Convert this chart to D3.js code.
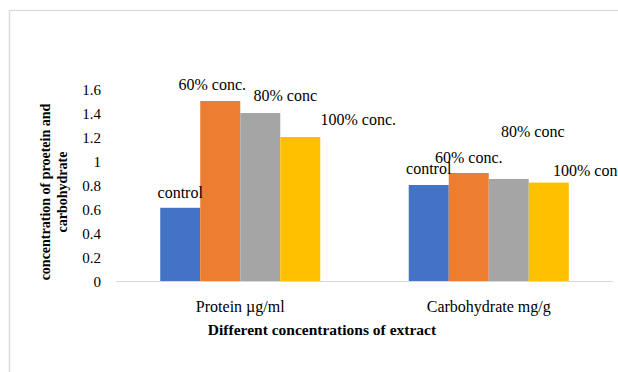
<!DOCTYPE html>
<html>
<head>
<meta charset="utf-8">
<script src="https://cdn.jsdelivr.net/npm/d3@7"></script>
<style>
  html, body { margin: 0; padding: 0; background: #fff; }
  svg { display: block; }
</style>
</head>
<body>
<svg id="chart" width="618" height="372" style="font-family:'Liberation Serif'"></svg>
<script>
// ---- data ----
const categories = ["Protein \u00b5g/ml", "Carbohydrate mg/g"];
const seriesNames = ["control", "60% conc.", "80% conc", "100% conc."];
const seriesLabelsCarb = ["control", "60% conc.", "80% conc", "100% conc"];
const controlValues = [0.61, 0.80];
const conc60Values = [1.50, 0.90];
const conc80Values = [1.40, 0.85];
const conc100Values = [1.20, 0.82];
const yTicks = [0, 0.2, 0.4, 0.6, 0.8, 1, 1.2, 1.4, 1.6];
const colors = ["#4472C4", "#ED7D31", "#A5A5A5", "#FFC000"];

// manually-moved data label offsets (layout, px) per category, per series
const labelOffsets = [
  [[0, -10], [-8, -11], [25, -12], [58, -12]],
  [[0, -11], [0, -10], [24, -42], [40, -7]]
];

const seriesValues = [controlValues, conc60Values, conc80Values, conc100Values];
const FONT = "Liberation Serif";

const svg = d3.select("#chart");

// chart border
svg.append("rect")
  .attr("x", 9.5).attr("y", 10.5)
  .attr("width", 640).attr("height", 400)
  .attr("fill", "#fff")
  .attr("stroke", "#d9d9d9").attr("stroke-width", 1.3);

const plot = { left: 116, right: 613, top: 89, bottom: 281 };

const x0 = d3.scaleBand()
  .domain(categories)
  .range([plot.left, plot.right])
  .paddingInner(0.356)
  .paddingOuter(0.178);

const x1 = d3.scaleBand()
  .domain(d3.range(seriesNames.length))
  .range([0, x0.bandwidth()])
  .padding(0);

const y = d3.scaleLinear().domain([0, 1.6]).range([plot.bottom, plot.top]);

// bars
const groups = svg.append("g").selectAll("g")
  .data(categories)
  .join("g")
  .attr("transform", d => `translate(${x0(d)},0)`);

groups.selectAll("rect")
  .data((c, ci) => seriesValues.map((vals, si) => ({ si, ci, v: vals[ci] })))
  .join("rect")
  .attr("x", d => x1(d.si))
  .attr("y", d => y(d.v))
  .attr("width", x1.bandwidth())
  .attr("height", d => y(0) - y(d.v))
  .attr("fill", d => colors[d.si]);

// baseline
svg.append("line")
  .attr("x1", plot.left).attr("x2", plot.right)
  .attr("y1", y(0) + 0.5).attr("y2", y(0) + 0.5)
  .attr("stroke", "#d9d9d9").attr("stroke-width", 1);

// y axis tick labels
const yAxis = d3.axisLeft(y).tickValues(yTicks).tickSize(0).tickPadding(0)
  .tickFormat(d => String(+d.toFixed(1)));
const yg = svg.append("g").attr("transform", `translate(101,0)`).call(yAxis)
  .attr("font-family", FONT).attr("font-size", 15);
yg.select(".domain").remove();
yg.selectAll("text")
  .attr("font-family", FONT).style("font-family", FONT)
  .attr("font-size", 15).attr("fill", "#000").attr("dy", "0.35em");

// x axis category labels
const xAxis = d3.axisBottom(x0).tickSize(0).tickPadding(0);
const xg = svg.append("g").attr("transform", `translate(0,${plot.bottom})`).call(xAxis)
  .attr("font-family", FONT).attr("font-size", 16);
xg.select(".domain").remove();
xg.selectAll("text")
  .attr("font-family", FONT).style("font-family", FONT)
  .attr("font-size", 16).attr("fill", "#000")
  .attr("dy", null).attr("y", 31);

// data labels
groups.selectAll("text.lbl")
  .data((c, ci) => seriesValues.map((vals, si) => ({ si, ci, v: vals[ci] })))
  .join("text")
  .attr("class", "lbl")
  .attr("x", d => x1(d.si) + x1.bandwidth() / 2 + labelOffsets[d.ci][d.si][0])
  .attr("y", d => y(d.v) + labelOffsets[d.ci][d.si][1])
  .attr("text-anchor", "middle")
  .attr("font-family", FONT).style("font-family", FONT)
  .attr("font-size", 16).attr("fill", "#000")
  .text(d => d.ci === 0 ? seriesNames[d.si] : seriesLabelsCarb[d.si]);

// axis titles
svg.append("text")
  .attr("x", 322).attr("y", 335)
  .attr("text-anchor", "middle")
  .attr("font-family", FONT).style("font-family", FONT)
  .attr("font-size", 15.5).attr("font-weight", "bold")
  .text("Different concentrations of extract");

const yt = svg.append("text")
  .attr("transform", "translate(50,192) rotate(-90)")
  .attr("text-anchor", "middle")
  .attr("font-family", FONT).style("font-family", FONT)
  .attr("font-size", 14).attr("font-weight", "bold");
yt.append("tspan").attr("x", 0).attr("y", 0).text("concentration of proetein and");
yt.append("tspan").attr("x", 0).attr("y", 16.5).text("carbohydrate");
</script>
</body>
</html>
